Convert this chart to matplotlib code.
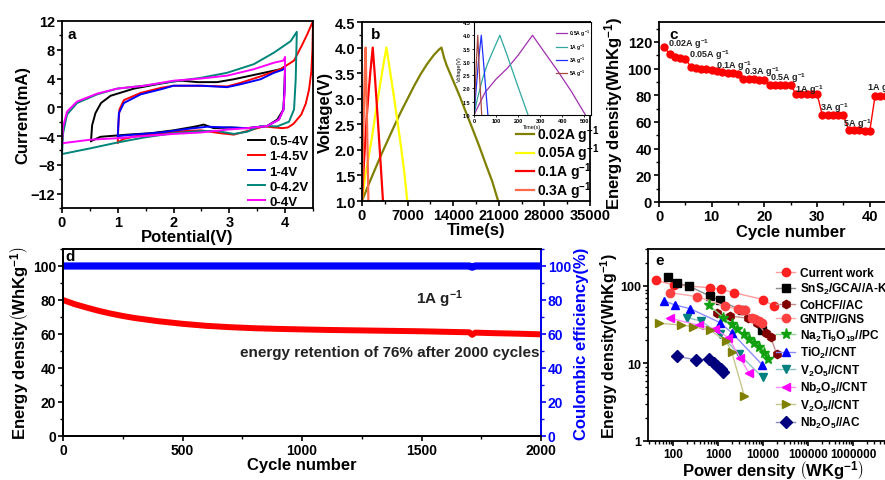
import matplotlib
matplotlib.use('Agg')
import matplotlib.pyplot as plt
from matplotlib.lines import Line2D
from matplotlib.ticker import MultipleLocator, FuncFormatter, LogLocator, NullFormatter, FixedLocator
from matplotlib.colors import to_rgb

plt.rcParams['font.family'] = ['Liberation Sans', 'DejaVu Sans']
plt.rcParams['font.weight'] = 'bold'
plt.rcParams['axes.labelweight'] = 'bold'
plt.rcParams['mathtext.fontset'] = 'custom'
plt.rcParams['mathtext.rm'] = 'Liberation Sans:bold'
plt.rcParams['mathtext.bf'] = 'Liberation Sans:bold'
plt.rcParams['mathtext.it'] = 'Liberation Sans:bold'
plt.rcParams['mathtext.default'] = 'bf'
plt.rcParams['axes.linewidth'] = 1.3
for k in ['xtick', 'ytick']:
    plt.rcParams[k + '.major.width'] = 1.2
    plt.rcParams[k + '.minor.width'] = 1.0
    plt.rcParams[k + '.major.size'] = 3.5
    plt.rcParams[k + '.minor.size'] = 2
    plt.rcParams[k + '.major.pad'] = 1.5

# ---------------- (a) CV curves ----------------
cv_05_4_v = [0.52, 0.54, 0.6, 0.7, 0.87, 1.29, 1.7, 2.0, 2.15, 2.43, 2.78, 3.08, 3.38, 3.68, 3.92, 4.0,
             3.99, 3.97, 3.86, 3.68, 3.32, 3.02, 2.72, 2.54, 2.49, 2.37, 2.0, 1.59, 1.17, 0.69, 0.52]
cv_05_4_i = [-4.7, -2.5, -0.8, 0.6, 1.6, 2.6, 3.2, 3.6, 3.7, 3.5, 3.5, 3.9, 4.4, 4.9, 5.3, 5.7,
             3.0, -0.3, -1.7, -2.6, -2.9, -2.8, -2.9, -2.4, -2.5, -2.7, -3.2, -3.6, -3.8, -4.1, -4.7]
cv_1_45_v = [1.0, 1.01, 1.03, 1.11, 1.41, 1.77, 2.0, 2.49, 2.96, 3.2, 3.56, 3.92, 4.16, 4.3, 4.4, 4.5,
             4.49, 4.47, 4.43, 4.37, 4.29, 4.15, 4.05, 3.95, 3.8, 3.62, 3.32, 3.08, 2.84, 2.49, 2.2, 1.8, 1.4, 1.1, 1.0]
cv_1_45_i = [-4.9, -2.5, -0.3, 1.0, 2.0, 2.7, 3.0, 3.0, 2.9, 3.4, 4.3, 5.3, 6.5, 8.6, 10.2, 12.0,
             8.0, 5.0, 2.5, 0.5, -1.0, -2.3, -2.8, -2.9, -2.8, -2.65, -3.3, -3.8, -3.6, -3.2, -3.3, -3.6, -3.9, -4.4, -4.9]
cv_1_4_v = [1.0, 1.02, 1.11, 1.41, 1.77, 2.0, 2.49, 2.96, 3.2, 3.56, 3.8, 3.95, 4.0,
            3.99, 3.97, 3.89, 3.68, 3.32, 2.96, 2.6, 2.25, 1.77, 1.29, 1.0]
cv_1_4_i = [-4.0, -0.8, 0.6, 1.8, 2.5, 3.0, 3.0, 2.8, 3.2, 3.9, 4.8, 5.2, 5.5,
            2.5, -0.3, -1.7, -2.6, -2.9, -2.8, -2.7, -3.0, -3.5, -3.8, -4.0]
cv_0_42_v = [0.0, 0.02, 0.09, 0.27, 0.63, 0.99, 1.47, 2.0, 2.49, 2.96, 3.44, 3.8, 4.1, 4.21,
             4.19, 4.16, 4.07, 3.86, 3.56, 3.32, 3.08, 2.78, 2.49, 2.0, 1.47, 0.99, 0.51, 0.0]
cv_0_42_i = [-6.5, -3.6, -1.0, 0.6, 1.8, 2.6, 3.0, 3.6, 4.1, 4.8, 6.0, 7.6, 9.2, 10.5,
             3.9, -0.3, -2.0, -2.65, -2.6, -3.4, -3.7, -3.3, -3.3, -3.6, -4.2, -4.9, -5.7, -6.5]
cv_0_4_v = [0.0, 0.02, 0.09, 0.27, 0.63, 0.99, 1.47, 2.0, 2.49, 2.96, 3.44, 3.8, 3.97, 4.0,
            3.99, 3.97, 3.89, 3.68, 3.32, 2.96, 2.49, 2.0, 1.47, 0.99, 0.51, 0.0]
cv_0_4_i = [-5.0, -2.7, -0.6, 0.8, 1.9, 2.6, 3.0, 3.7, 4.0, 4.4, 5.3, 6.2, 6.5, 7.0,
            2.0, -0.3, -1.7, -2.6, -2.9, -3.1, -3.5, -3.7, -4.0, -4.3, -4.5, -5.0]
cv_labels = ['0.5-4V', '1-4.5V', '1-4V', '0-4.2V', '0-4V']
cv_colors = ['black', '#ff0000', '#0000ff', '#00857a', '#ff00ff']

# ---------------- (b) GCD curves ----------------
gcd_002_t = [0, 1000, 2000, 3000, 4000, 5000, 6000, 7000, 8000, 9000, 10000, 11000, 11800, 12200,
             12600, 13000, 14000, 15000, 16000, 17000, 18000, 19000, 20000, 20900]
gcd_002_v = [1.0, 1.32, 1.62, 1.92, 2.2, 2.48, 2.75, 3.0, 3.25, 3.48, 3.68, 3.85, 3.96, 4.0,
             3.8, 3.65, 3.35, 3.05, 2.72, 2.4, 2.07, 1.72, 1.38, 1.0]
gcd_005_t = [0, 500, 1000, 1500, 2000, 2500, 3000, 3400, 3750, 4000, 4500, 5000, 5500, 6000, 6500, 6950]
gcd_005_v = [1.0, 1.5, 1.85, 2.22, 2.65, 3.05, 3.45, 3.75, 4.0, 3.8, 3.38, 2.95, 2.5, 2.05, 1.55, 1.0]
gcd_01_t = [0, 300, 700, 1000, 1300, 1650, 2000, 2500, 3000, 3220]
gcd_01_v = [1.0, 1.75, 2.6, 3.1, 3.55, 4.0, 3.4, 2.45, 1.45, 1.0]
gcd_03_t = [0, 150, 300, 450, 560, 700, 850, 980]
gcd_03_v = [1.0, 2.0, 2.9, 3.6, 4.0, 3.0, 2.0, 1.0]
gcd_labels = ['0.02A g$^{-1}$', '0.05A g$^{-1}$', '0.1A g$^{-1}$', '0.3A g$^{-1}$']
gcd_colors = ['#808000', '#ffff00', '#ff0000', '#ff6a4a']

ins_05_t = [0, 50, 100, 150, 200, 265, 320, 380, 440, 505]
ins_05_v = [1.0, 1.85, 2.35, 2.75, 3.25, 4.0, 3.35, 2.65, 1.9, 1.0]
ins_1_t = [0, 15, 40, 60, 80, 117, 150, 200, 245]
ins_1_v = [1.0, 1.6, 2.4, 2.9, 3.3, 4.0, 3.25, 2.05, 1.0]
ins_3_t = [0, 10, 20, 33, 45, 63]
ins_3_v = [1.0, 2.0, 3.0, 4.0, 2.8, 1.0]
ins_5_t = [0, 8, 17, 25, 35]
ins_5_v = [1.0, 2.5, 4.0, 2.5, 1.0]
ins_labels = ['0.5A g$^{-1}$', '1A g$^{-1}$', '3A g$^{-1}$', '5A g$^{-1}$']
ins_colors = ['#a030b0', '#30a8a0', '#2030ff', '#a84840']

# ---------------- (c) rate capability ----------------
rate_cycle = list(range(1, 46))
rate_energy = [116, 111, 109, 108, 107.5,
               101.5, 100.5, 100, 99.5, 99,
               98, 97.5, 97, 96.5, 96,
               92.5, 92, 92, 91.5, 91.5,
               88, 87.5, 87.5, 87.5, 87.5,
               81, 81, 81, 81, 81,
               65, 65, 65, 65, 65,
               54, 54, 54, 53.5, 53.5,
               79.5, 79.5, 79.5, 79.5, 79.5]
rate_labels = ['0.02A g$^{-1}$', '0.05A g$^{-1}$', '0.1A g$^{-1}$', '0.3A g$^{-1}$', '0.5A g$^{-1}$',
               '1A g$^{-1}$', '3A g$^{-1}$', '5A g$^{-1}$', '1A g$^{-1}$']
rate_label_x = [1.7, 5.7, 10.8, 16.1, 21.1, 25.8, 30.5, 34.9, 39.5]
rate_label_y = [119, 111, 103, 98, 94, 85, 71, 59, 86]

# ---------------- (d) cycling ----------------
cyc_n = [0, 50, 100, 150, 200, 250, 300, 400, 500, 600, 700, 800, 900, 1000, 1100, 1200,
         1300, 1400, 1500, 1600, 1700, 1712, 1725, 1800, 1900, 2000]
cyc_energy = [80, 77.5, 75.5, 73.6, 72, 70.6, 69.4, 67.5, 66, 64.8, 64, 63.4, 63, 62.7, 62.4, 62.2,
              62, 61.8, 61.6, 61.3, 61, 59.5, 60.8, 60.5, 60.2, 59.8]
ce_n = [0, 500, 1000, 1500, 1700, 1712, 1725, 2000]
ce_val = [100, 100, 100, 100, 100, 99.3, 100, 100]

# ---------------- (e) Ragone ----------------
rag_labels = ['Current work', 'SnS$_2$/GCA//A-KB', 'CoHCF//AC', 'GNTP//GNS', 'Na$_2$Ti$_9$O$_{19}$//PC',
              'TiO$_2$//CNT', 'V$_2$O$_5$//CNT', 'Nb$_2$O$_5$//CNT', 'V$_2$O$_5$//CNT', 'Nb$_2$O$_5$//AC']
rag_markers = ['o', 's', 'h', 'o', '*', '^', 'v', '<', '>', 'D']
rag_colors = ['#ff2020', '#000000', '#800000', '#ff4040', '#10a010', '#0000ff', '#00807f',
              '#ff00ff', '#808000', '#00007f']
p_current = [42, 105, 664, 1146, 2269, 10160, 17260]
e_current = [118, 103, 95, 90.6, 82, 66.7, 55.2]
p_sns2 = [79, 121, 231, 664, 1107, 3357, 9660]
e_sns2 = [130, 110, 99, 74, 65, 48.5, 26.8]
p_cohcf = [933, 1849, 4720, 7230, 11460, 14800, 20130]
e_cohcf = [44.4, 41, 38.3, 33.7, 24.5, 22.2, 13.1]
p_gntp = [86, 347, 1431, 2820, 3380, 3980, 5600, 6640, 8130, 9660]
e_gntp = [82, 72.8, 55.2, 50, 49, 48.5, 38.3, 37, 35.4, 33.7]
p_nti = [621, 1315, 2014, 2603, 3785, 4970, 6420, 8290, 10520, 12700]
e_nti = [56.9, 39, 32, 28.1, 23.8, 20.9, 18.6, 16.5, 13.8, 11.5]
p_tio2 = [64, 111, 239, 1107, 2014, 9660]
e_tio2 = [64, 56.9, 51, 33.7, 25, 9.6]
p_v2o5a = [208, 419, 1107, 2980, 9840]
e_v2o5a = [39, 35.3, 23.8, 13.1, 6.6]
p_nb2o5a = [86, 385, 858, 1700, 3080, 4890]
e_nb2o5a = [38.3, 31, 28.1, 21.5, 11.9, 7.5]
p_v2o5b = [49, 151, 283, 664, 1507, 2014, 3850]
e_v2o5b = [33, 31.4, 29.9, 27, 19.5, 14.1, 3.8]
p_nb2o5b = [121, 319, 631, 815, 966, 1146, 1315]
e_nb2o5b = [12.5, 11.1, 11.5, 10.0, 9.3, 8.4, 7.8]
rag_p = [p_current, p_sns2, p_cohcf, p_gntp, p_nti, p_tio2, p_v2o5a, p_nb2o5a, p_v2o5b, p_nb2o5b]
rag_e = [e_current, e_sns2, e_cohcf, e_gntp, e_nti, e_tio2, e_v2o5a, e_nb2o5a, e_v2o5b, e_nb2o5b]
rag_xticks = [100, 1000, 10000, 100000, 1000000]

W, H = 885, 481
fig = plt.figure(figsize=(W / 100, H / 100), dpi=100)


def box(l, t, r, b):
    return [l / W, (H - b) / H, (r - l) / W, (b - t) / H]


def lighten(c, f=0.55):
    r, g, b = to_rgb(c)
    return (r + (1 - r) * f, g + (1 - g) * f, b + (1 - b) * f)


def style(ax, fs=10.5):
    ax.tick_params(which='both', direction='out', labelsize=fs)
    ax.tick_params(which='both', top=False, right=False)


# (a)
ax = fig.add_axes(box(62, 22, 313, 209))
for v, i, c, lab in zip([cv_05_4_v, cv_1_45_v, cv_1_4_v, cv_0_42_v, cv_0_4_v],
                        [cv_05_4_i, cv_1_45_i, cv_1_4_i, cv_0_42_i, cv_0_4_i], cv_colors, cv_labels):
    ax.plot(v, i, color=c, lw=1.4, label=lab)
ax.set_xlim(0, 4.5)
ax.set_ylim(-14, 12)
ax.xaxis.set_major_locator(MultipleLocator(1))
ax.xaxis.set_minor_locator(MultipleLocator(0.5))
ax.yaxis.set_major_locator(MultipleLocator(4))
ax.yaxis.set_minor_locator(MultipleLocator(2))
style(ax)
ax.set_xlabel('Potential(V)', fontsize=12, labelpad=0)
ax.set_ylabel('Current(mA)', fontsize=12, labelpad=0)
ax.text(0.02, 0.97, 'a', transform=ax.transAxes, fontsize=11, va='top')
ax.legend(loc='upper left', bbox_to_anchor=(248 / W, 1 - 136 / H), bbox_transform=fig.transFigure,
          frameon=False, fontsize=9.5, handlelength=1.3, handletextpad=0.3, labelspacing=0.22,
          borderpad=0, borderaxespad=0)

# (b)
ax = fig.add_axes(box(362, 23, 590, 202))
for t, v, c, lab in zip([gcd_002_t, gcd_005_t, gcd_01_t, gcd_03_t], [gcd_002_v, gcd_005_v, gcd_01_v, gcd_03_v],
                        gcd_colors, gcd_labels):
    ax.plot(t, v, color=c, lw=1.6, label=lab)
ax.set_xlim(0, 35000)
ax.set_ylim(1.0, 4.5)
ax.xaxis.set_major_locator(MultipleLocator(7000))
ax.xaxis.set_minor_locator(MultipleLocator(3500))
ax.yaxis.set_major_locator(MultipleLocator(0.5))
ax.yaxis.set_minor_locator(MultipleLocator(0.25))
ax.yaxis.set_major_formatter(FuncFormatter(lambda x, p: '%.1f' % x))
style(ax)
ax.set_xlabel('Time(s)', fontsize=12, labelpad=0)
ax.set_ylabel('Voltage(V)', fontsize=12, labelpad=1)
ax.text(0.04, 0.97, 'b', transform=ax.transAxes, fontsize=11, va='top')
ax.legend(loc='upper left', bbox_to_anchor=(516 / W, 1 - 124 / H), bbox_transform=fig.transFigure,
          frameon=False, fontsize=10, handlelength=1.3, handletextpad=0.2, labelspacing=-0.2,
          borderpad=0, borderaxespad=0)

ins = fig.add_axes(box(474, 23, 591, 116))
for t, v, c, lab in zip([ins_05_t, ins_1_t, ins_3_t, ins_5_t], [ins_05_v, ins_1_v, ins_3_v, ins_5_v],
                        ins_colors, ins_labels):
    ins.plot(t, v, color=c, lw=0.9, label=lab)
ins.set_xlim(0, 530)
ins.set_ylim(1.0, 4.5)
ins.xaxis.set_major_locator(MultipleLocator(100))
ins.yaxis.set_major_locator(MultipleLocator(0.5))
ins.yaxis.set_major_formatter(FuncFormatter(lambda x, p: '%.1f' % x))
ins.tick_params(labelsize=4, length=1.5, width=0.6, pad=1, direction='out')
for s in ins.spines.values():
    s.set_linewidth(0.8)
ins.set_xlabel('Time(s)', fontsize=4, labelpad=0.5, fontweight='normal')
ins.set_ylabel('Voltage(V)', fontsize=4, labelpad=0.5, fontweight='normal')
ins.legend(loc='upper left', bbox_to_anchor=(556 / W, 1 - 29 / H), bbox_transform=fig.transFigure,
           frameon=False, fontsize=3.6, handlelength=2.2, handletextpad=0.4, labelspacing=0.6,
           borderpad=0, borderaxespad=0)

# (c)
ax = fig.add_axes(box(659, 23, 659 + 50 * 5.27, 203))
ax.plot(rate_cycle, rate_energy, color='#ff0000', lw=1.0, marker='o', ms=5, mec='#ff0000', mfc='#ff0000')
for x, y, s in zip(rate_label_x, rate_label_y, rate_labels):
    ax.text(x, y, s, fontsize=6.5, color='#222222', va='center', ha='left')
ax.set_xlim(0, 50)
ax.set_ylim(0, 135)
ax.xaxis.set_major_locator(MultipleLocator(10))
ax.xaxis.set_minor_locator(MultipleLocator(5))
ax.yaxis.set_major_locator(MultipleLocator(20))
ax.yaxis.set_minor_locator(MultipleLocator(10))
style(ax)
ax.set_xlabel('Cycle number', fontsize=12, labelpad=1)
ax.set_ylabel('Energy density(WhKg$^{-1}$)', fontsize=12, labelpad=2)
ax.text(0.04, 0.97, 'c', transform=ax.transAxes, fontsize=11, va='top')

# (d)
ax = fig.add_axes(box(63, 250, 541, 437))
ax.plot(cyc_n, cyc_energy, color='#ff0000', lw=4.3, solid_capstyle='butt')
ax.set_xlim(0, 2000)
ax.set_ylim(0, 110)
ax.xaxis.set_major_locator(MultipleLocator(500))
ax.xaxis.set_minor_locator(MultipleLocator(250))
ax.yaxis.set_major_locator(MultipleLocator(20))
ax.yaxis.set_minor_locator(MultipleLocator(10))
style(ax, 10)
ax.set_xlabel('Cycle number', fontsize=12, labelpad=0)
ax.set_ylabel(r'Energy density$\left(\mathbf{WhKg^{-1}}\right)$', fontsize=12, labelpad=1)
ax.text(0.006, 1.0, 'd', transform=ax.transAxes, fontsize=11, va='top')
ax.text(1475, 81, '1A g$^{-1}$', fontsize=11, va='center', ha='left', color='#222222')
ax.text(1995, 49.5, 'energy retention of 76% after 2000 cycles', fontsize=11, va='center', ha='right',
        color='#222222')
ax2 = ax.twinx()
ax2.plot(ce_n, ce_val, color='#0000ff', lw=5.2, solid_capstyle='butt')
ax2.set_ylim(0, 110)
ax2.yaxis.set_major_locator(MultipleLocator(20))
ax2.yaxis.set_minor_locator(MultipleLocator(10))
ax2.tick_params(which='both', direction='out', labelsize=10, colors='#0000ff')
ax2.spines['right'].set_color('#0000ff')
ax2.set_ylabel('Coulombic efficiency(%)', fontsize=12, color='#0000ff', labelpad=2)

# (e)
ax = fig.add_axes(box(648, 250, 898, 442))
handles = []
for p, e, m, c, lab in zip(rag_p, rag_e, rag_markers, rag_colors, rag_labels):
    ms = 8 if m == '*' else 6
    ax.plot(p, e, color=lighten(c), lw=1.0, marker=m, ms=ms, mfc=c, mec=c)
    handles.append(Line2D([], [], color=lighten(c), lw=1.0, marker=m, ms=ms, mfc=c, mec=c, label=lab))
ax.set_xscale('log')
ax.set_yscale('log')
ax.set_xlim(27.8, 1e7)
ax.set_ylim(1, 300)
ax.xaxis.set_major_locator(FixedLocator(rag_xticks))
ax.xaxis.set_minor_locator(LogLocator(base=10, subs=range(2, 10), numticks=12))
ax.xaxis.set_major_formatter(FuncFormatter(lambda x, p: '%d' % round(x)))
ax.xaxis.set_minor_formatter(NullFormatter())
ax.yaxis.set_major_formatter(FuncFormatter(lambda x, p: '%d' % round(x)))
ax.yaxis.set_minor_formatter(NullFormatter())
style(ax, 9)
ax.tick_params(axis='x', labelsize=8.5)
ax.set_xlabel(r'Power density $\left(\mathbf{WKg^{-1}}\right)$', fontsize=12, labelpad=-1)
ax.set_ylabel('Energy density(WhKg$^{-1}$)', fontsize=11.5, labelpad=0)
ax.text(0.03, 0.98, 'e', transform=ax.transAxes, fontsize=11, va='top')
ax.legend(handles=handles, loc='upper left', bbox_to_anchor=(776 / W, 1 - 268 / H),
          bbox_transform=fig.transFigure, frameon=False, fontsize=8.6, handlelength=1.6,
          handletextpad=0.4, labelspacing=0.2, borderpad=0, borderaxespad=0)

fig.savefig('out.png', dpi=100)
